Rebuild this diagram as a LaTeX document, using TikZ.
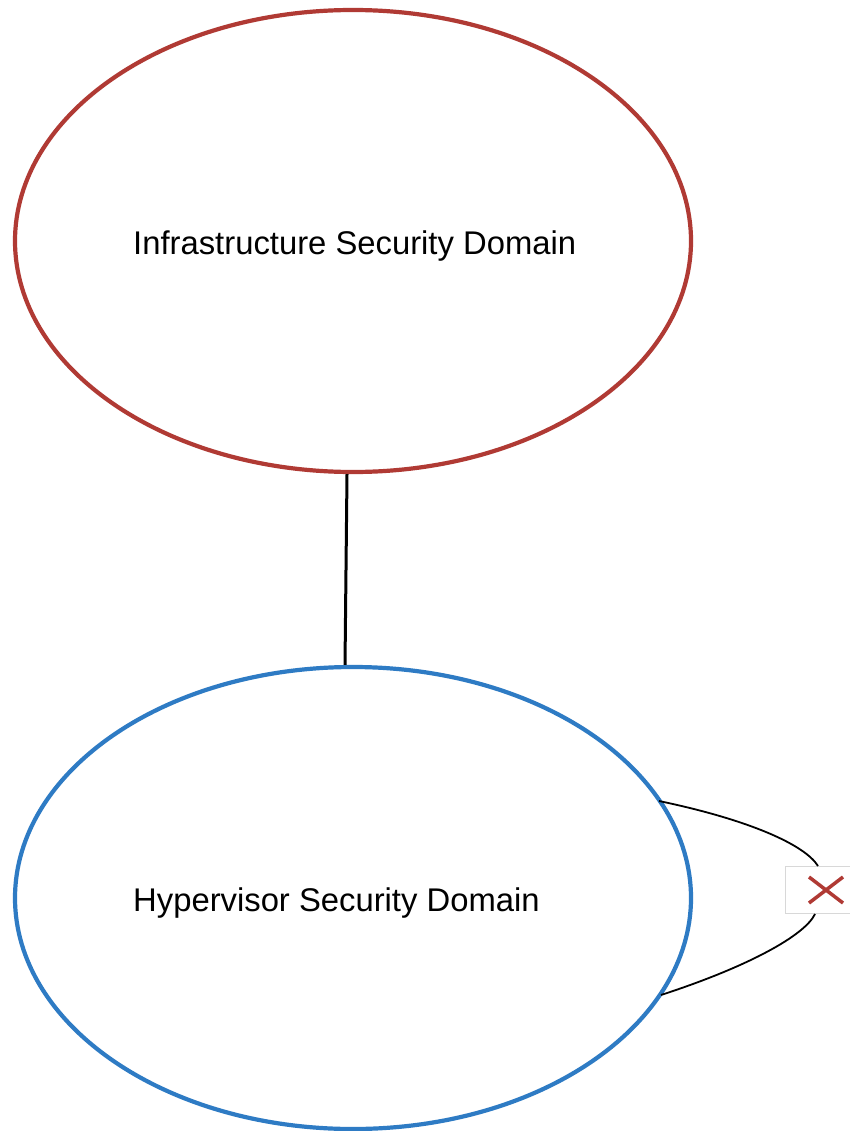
\documentclass[tikz,border=0pt]{standalone}
\usepackage{fontspec}
\setmainfont{Liberation Sans}
\usetikzlibrary{shapes.geometric,calc}
\definecolor{domred}{HTML}{B03A34}
\definecolor{domblue}{HTML}{2E7BC4}
\definecolor{boxgray}{HTML}{D8D8D8}
\tikzset{
  secdomain/.style={ellipse, draw, line width=4.2pt, fill=white, inner sep=0pt,
    minimum width=676pt},
  domtext/.style={anchor=west, inner sep=0pt, font=\fontsize{32.8}{38}\selectfont},
  link/.style={draw=black, line width=3pt},
  thin link/.style={draw=black, line width=1.8pt},
  xbox/.style={draw=boxgray, fill=white, line width=0.8pt, minimum width=65pt, minimum height=47pt, inner sep=0pt}
}
\begin{document}
\begin{tikzpicture}[x=1pt,y=-1pt]
\useasboundingbox[fill=white] (0,0) rectangle (850,1131);
\node[secdomain, draw=domred, minimum height=462pt] (infra) at (353,241) {};
\node[secdomain, draw=domblue, minimum height=462pt] (hyp) at (353,898) {};
\node[domtext] (infratext) at (133,246) {Infrastructure Security Domain};
\node[domtext] (hyptext) at (133,903) {Hypervisor Security Domain};
\draw[link] ($(infra.south)+(-6,0)$) -- ($(hyp.north)+(-8,0)$);
\node[xbox] (x) at (818,890) {};
\coordinate (xtop) at (818,866);
\coordinate (xbot) at (815,914);
\coordinate (hu) at (659,801);
\coordinate (hl) at (661,995);
\draw[thin link] (hu) .. controls (750,820) and (805,845) .. (xtop);
\draw[thin link] (hl) .. controls (750,966) and (805,935) .. (xbot);
\draw[domred, line width=3.5pt] (809,877) -- (843,903) (809,903) -- (843,877);
\end{tikzpicture}
\end{document}
